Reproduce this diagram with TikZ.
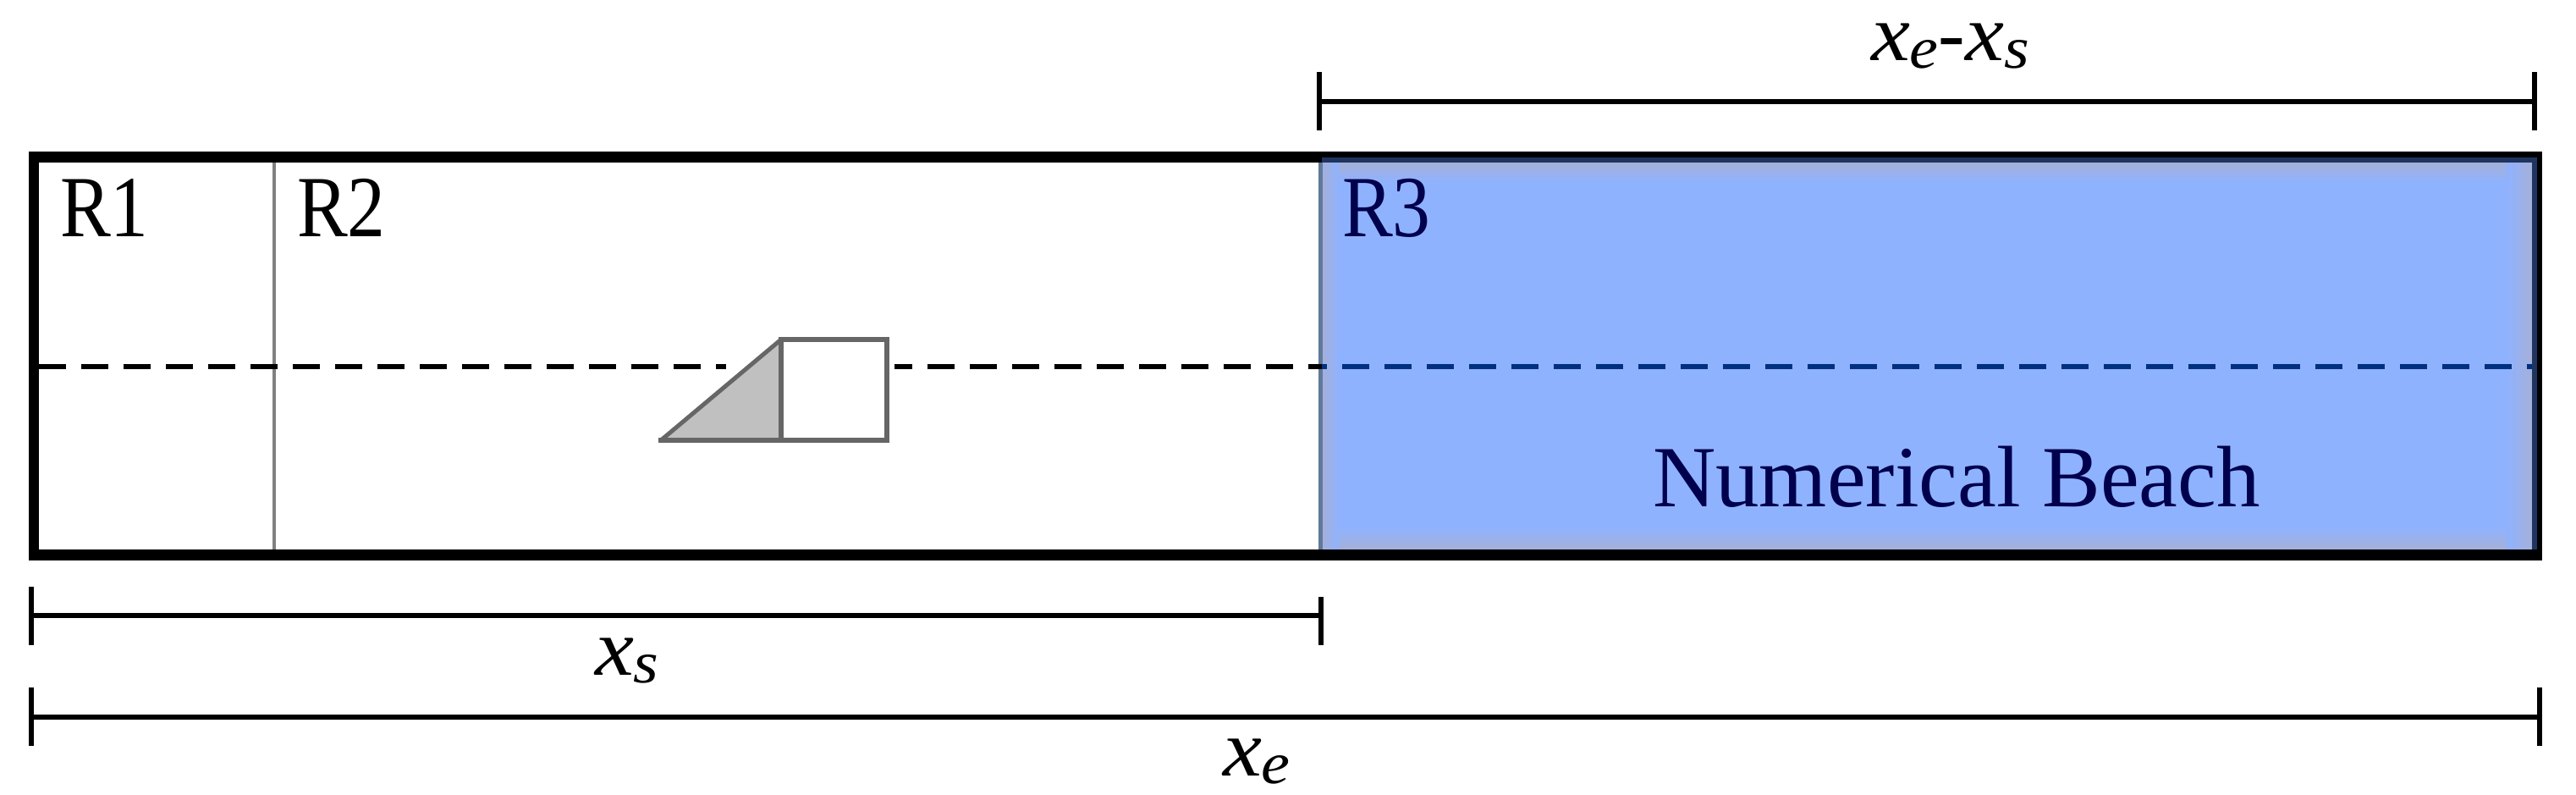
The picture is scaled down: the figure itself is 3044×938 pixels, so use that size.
\documentclass[tikz,border=0pt]{standalone}
\usepackage{fontspec}
\setmainfont{Liberation Serif}
\definecolor{beach}{HTML}{8FB2FF}
\definecolor{beachedge}{HTML}{A5B0D8}
\definecolor{beachrim}{HTML}{1F3560}
\definecolor{ink}{HTML}{00004D}
\definecolor{dashblue}{HTML}{00307F}
\definecolor{grayline}{HTML}{808080}
\definecolor{slate}{HTML}{607A9A}
\definecolor{wedge}{HTML}{C0C0C0}
\definecolor{boxline}{HTML}{666666}
\newcommand{\bigtxt}{\fontsize{103}{110}\selectfont}
\newcommand{\sym}[2]{\scalebox{1.09}[1]{\fontsize{95}{100}\selectfont\textit{#1}\raisebox{-9pt}{\fontsize{70}{75}\selectfont\textit{#2}}}}
\tikzset{
  x=1pt,y=-1pt,
  outerframe/.style={draw=black,line width=12.5pt},
  region/.style={draw=grayline,line width=4pt},
  waterline/.style={line width=6.5pt,dash pattern=on 32pt off 18pt},
  dimline/.style={draw=black,line width=6.5pt},
  tick/.style={draw=black,line width=5.5pt},
  lab/.style={anchor=base west,inner sep=0pt,outer sep=0pt},
  hull/.style={draw=boxline,line width=6pt,line cap=rect},
}
\begin{document}
\begin{tikzpicture}
\useasboundingbox (0,0) rectangle (3044,938);
% beach
\fill[beach] (1558,186) rectangle (2998,655);
\shade[top color=beachedge,bottom color=beach] (1558,192) rectangle (2992,215);
\shade[top color=beach,bottom color=beachedge] (1558,622) rectangle (2992,649);
\shade[left color=beach,right color=beachedge] (2962,192) rectangle (2992,649);
\shade[left color=beachedge,right color=beach] (1562,192) rectangle (1582,649);
\draw[draw=slate,line width=5pt] (1560,186) -- (1560,655);
% regions
\coordinate (rt) at (324,186); \coordinate (rb) at (324,655);
\draw[region] (rt) -- (rb);
% water line
\coordinate (wl) at (46,433); \coordinate (wm) at (1562,433); \coordinate (wr) at (2992,433);
\draw[waterline,draw=black] (wl) -- (wm);
\draw[waterline,draw=dashblue,dash phase=26pt] (wm) -- (wr);
% body
\coordinate (a) at (781,520); \coordinate (b) at (923,401); \coordinate (c) at (923,520);
\coordinate (d) at (1048,401); \coordinate (e) at (1048,520);
\fill[white] (858,420) -- (858,445) -- (923,445) -- (923,401) -- cycle;
\fill[white] (923,401) rectangle (1057,445);
\fill[wedge] (a) -- (b) -- (c) -- cycle;
\draw[draw=boxline,line width=5pt] (a) -- (b);
\draw[hull] (b) -- (c);
\draw[hull] (b) -- (d);
\draw[hull] (d) -- (e);
\draw[hull] (a) -- (e);
% frame
\draw[outerframe] (40,185.5) rectangle (2998,655.5);
\draw[draw=beachrim,line width=6pt] (1562,189) -- (2995,189) -- (2995,649);
% text
\node[lab] (r1) at (71,279) {\bigtxt\scalebox{0.87}[1]{R1}};
\node[lab] (r2) at (351,279) {\bigtxt\scalebox{0.87}[1]{R2}};
\node[lab,text=ink] (r3) at (1586,279) {\bigtxt\scalebox{0.87}[1]{R3}};
\node[lab,text=ink] (nb) at (1953,598) {\bigtxt Numerical Beach};
% dimensions
\coordinate (s1) at (37,727); \coordinate (s2) at (1561,727);
\draw[dimline] (s1) -- (s2);
\draw[tick] (37,693) -- (37,762);
\draw[tick] (1561,705) -- (1561,762);
\node[lab] (xs) at (703,797) {\sym{x}{s}};
\coordinate (e1) at (37,847); \coordinate (e2) at (3001,847);
\draw[dimline] (e1) -- (e2);
\draw[tick] (37,812) -- (37,881);
\draw[tick] (3001,812) -- (3001,881);
\node[lab] (xe) at (1445,916) {\sym{x}{e}};
\coordinate (d1) at (1559,120); \coordinate (d2) at (2995,120);
\draw[dimline] (d1) -- (d2);
\draw[tick] (1559,85) -- (1559,154);
\draw[tick] (2995,85) -- (2995,154);
\node[lab] (xd) at (2211,71) {\sym{x}{e}{\fontsize{95}{100}\selectfont\textit{-}}\sym{x}{s}};
\end{tikzpicture}
\end{document}
